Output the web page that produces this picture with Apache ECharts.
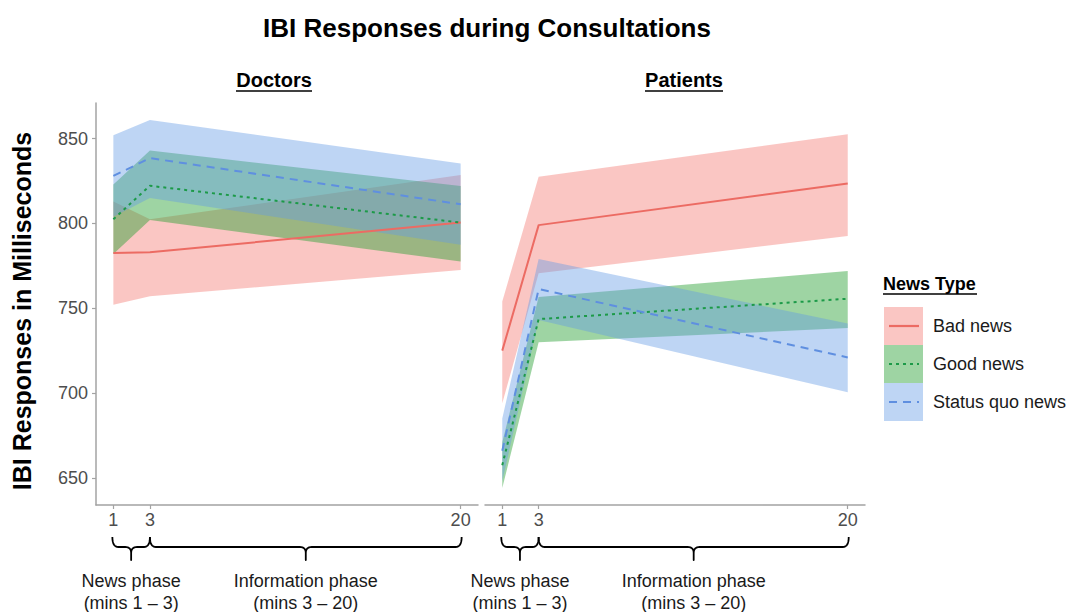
<!DOCTYPE html>
<html>
<head>
<meta charset="utf-8">
<title>IBI Responses during Consultations</title>
<script src="https://cdn.jsdelivr.net/npm/echarts@6/dist/echarts.min.js"></script>
<style>
  html, body { margin: 0; padding: 0; background: #ffffff; }
  #chart { width: 1070px; height: 612px; }
</style>
</head>
<body>
<div id="chart"></div>
<script>
// Minutes into the consultation at which the model estimates are given
const minutes = [1, 3, 20];
const xTicks = [1, 3, 20];
const yTicks = [650, 700, 750, 800, 850];

// Doctors: mean IBI and confidence band per news type
const docBadMean  = [782.5, 783, 800.5];
const docBadLow   = [752, 757, 772.6];
const docBadHigh  = [813, 802.5, 828.5];
const docGoodMean = [802.5, 822.2, 800.5];
const docGoodLow  = [782, 802, 777.5];
const docGoodHigh = [823, 843, 822];
const docSqMean   = [828, 838.5, 811.3];
const docSqLow    = [804, 815, 787.4];
const docSqHigh   = [852, 861, 835.4];

// Patients: mean IBI and confidence band per news type
const patBadMean  = [725, 799, 823.6];
const patBadLow   = [694, 770.7, 792.6];
const patBadHigh  = [754, 827.5, 852.6];
const patGoodMean = [657.5, 743.6, 755.6];
const patGoodLow  = [644, 730, 738.3];
const patGoodHigh = [671, 756.6, 772];
const patSqMean   = [666, 761.3, 721];
const patSqLow    = [648, 743, 700.5];
const patSqHigh   = [685, 779, 741];

const newsTypes = ['Bad news', 'Good news', 'Status quo news'];
const panels = ['Doctors', 'Patients'];

const FONT = "'Liberation Sans', Arial, Helvetica, sans-serif";
const styles = {
  'Bad news':        { line: '#ec6b63', fill: 'rgba(244,120,112,0.42)', dash: 'solid' },
  'Good news':       { line: '#1c9a48', fill: 'rgba(40,160,50,0.45)',   dash: [3, 4] },
  'Status quo news': { line: '#5f8fe0', fill: 'rgba(100,155,228,0.42)', dash: [8, 6] }
};

const panelData = [
  { 'Bad news': [docBadMean, docBadLow, docBadHigh],
    'Good news': [docGoodMean, docGoodLow, docGoodHigh],
    'Status quo news': [docSqMean, docSqLow, docSqHigh] },
  { 'Bad news': [patBadMean, patBadLow, patBadHigh],
    'Good news': [patGoodMean, patGoodLow, patGoodHigh],
    'Status quo news': [patSqMean, patSqLow, patSqHigh] }
];

const chart = echarts.init(document.getElementById('chart'), null, { renderer: 'svg' });

// Ribbon drawn as one polygon through the upper edge and back along the lower edge
function ribbon(gridIdx, name, low, high) {
  const data = minutes.map((m, i) => [m, low[i], high[i]]);
  return {
    type: 'custom', name: name, xAxisIndex: gridIdx, yAxisIndex: gridIdx,
    data: data, encode: { x: 0, y: [1, 2] }, silent: true, z: 2,
    renderItem: function (params, api) {
      if (params.dataIndex !== 0) return null;
      const pts = [];
      for (let i = 0; i < data.length; i++) pts.push(api.coord([data[i][0], data[i][2]]));
      for (let i = data.length - 1; i >= 0; i--) pts.push(api.coord([data[i][0], data[i][1]]));
      return { type: 'polygon', shape: { points: pts }, style: { fill: styles[name].fill } };
    }
  };
}

function meanLine(gridIdx, name, mean) {
  return {
    type: 'line', name: name, xAxisIndex: gridIdx, yAxisIndex: gridIdx,
    data: minutes.map((m, i) => [m, mean[i]]),
    showSymbol: false, silent: true, z: 3,
    lineStyle: { color: styles[name].line, width: 2, type: styles[name].dash }
  };
}

const series = [];
panels.forEach((p, g) => {
  newsTypes.forEach(t => series.push(ribbon(g, t, panelData[g][t][1], panelData[g][t][2])));
});
panels.forEach((p, g) => {
  newsTypes.forEach(t => series.push(meanLine(g, t, panelData[g][t][0])));
});

const axisGrey = '#a3a3a3';
const labelGrey = '#4d4d4d';

chart.setOption({
  animation: false,
  backgroundColor: '#ffffff',
  grid: [
    { left: 96, top: 103, width: 382, height: 402 },
    { left: 485, top: 103, width: 380, height: 402 }
  ],
  xAxis: [0, 1].map(i => ({
    gridIndex: i, type: 'value', min: 0.05, max: 20.95,
    axisLine: { show: true, onZero: false, lineStyle: { color: axisGrey, width: 1.5 } },
    axisTick: { show: true, length: 4, customValues: xTicks, lineStyle: { color: axisGrey, width: 1.2 } },
    axisLabel: { customValues: xTicks, fontSize: 18, color: labelGrey, margin: 6, fontFamily: FONT },
    splitLine: { show: false }
  })),
  yAxis: [
    {
      gridIndex: 0, type: 'value', min: 634, max: 871,
      axisLine: { show: true, lineStyle: { color: axisGrey, width: 1.5 } },
      axisTick: { show: true, length: 4, customValues: yTicks, lineStyle: { color: axisGrey, width: 1.2 } },
      axisLabel: { customValues: yTicks, fontSize: 18, color: labelGrey, margin: 8, fontFamily: FONT },
      splitLine: { show: false }
    },
    { gridIndex: 1, type: 'value', min: 634, max: 871, show: false, splitLine: { show: false } }
  ],
  series: series
});

// Text, legend and phase braces
const g = [];
function text(x, y, str, opt) {
  g.push({
    type: 'text', x: x, y: y, silent: true,
    style: Object.assign({ text: str, fontFamily: FONT, fill: '#000000', fontSize: 18,
      align: 'center', verticalAlign: 'middle' }, opt || {})
  });
}
function hline(x1, x2, y, w, color) {
  g.push({ type: 'line', silent: true, shape: { x1: x1, y1: y, x2: x2, y2: y },
    style: { stroke: color || '#000', lineWidth: w || 1.5 } });
}

text(487, 28, 'IBI Responses during Consultations', { fontSize: 26, fontWeight: 'bold' });
text(274, 80, 'Doctors', { fontWeight: 'bold', fontSize: 20 });
hline(236, 312, 91, 1.7);
text(684, 80, 'Patients', { fontWeight: 'bold', fontSize: 20 });
hline(645, 723, 91, 1.7);

g.push({
  type: 'text', x: 22, y: 311, rotation: Math.PI / 2, silent: true,
  style: { text: 'IBI Responses in Milliseconds', fontFamily: FONT, fontSize: 25, fontWeight: 'bold',
    fill: '#000', align: 'center', verticalAlign: 'middle' }
});

// Legend
text(883, 284, 'News Type', { fontWeight: 'bold', align: 'left' });
hline(883, 977, 294, 1.6);
newsTypes.forEach((t, i) => {
  const top = 307 + i * 38;
  const cy = top + 19;
  g.push({ type: 'rect', silent: true, shape: { x: 884, y: top, width: 39, height: 38 },
    style: { fill: styles[t].fill } });
  g.push({ type: 'line', silent: true, shape: { x1: 889, y1: cy, x2: 919, y2: cy },
    style: { stroke: styles[t].line, lineWidth: 2.2,
      lineDash: styles[t].dash === 'solid' ? null : styles[t].dash } });
  text(933, cy, t, { align: 'left', fill: '#1a1a1a' });
});

// Curly braces under each panel marking the two phases
function quad(p0, c, p1, out) {
  for (let k = 1; k <= 8; k++) {
    const s = k / 8, u = 1 - s;
    out.push([u * u * p0[0] + 2 * u * s * c[0] + s * s * p1[0],
              u * u * p0[1] + 2 * u * s * c[1] + s * s * p1[1]]);
  }
}
function brace(xa, xb) {
  const y0 = 537, y1 = 547, y2 = 560, r = 6;
  const xc = (xa + xb) / 2;
  const pts = [[xa, y0]];
  quad([xa, y0], [xa, y1], [xa + r, y1], pts);
  pts.push([xc - r, y1]);
  quad([xc - r, y1], [xc, y1], [xc, y1 + r], pts);
  pts.push([xc, y2]);
  pts.push([xc, y1 + r]);
  quad([xc, y1 + r], [xc, y1], [xc + r, y1], pts);
  pts.push([xb - r, y1]);
  quad([xb - r, y1], [xb, y1], [xb, y0], pts);
  g.push({ type: 'polyline', silent: true, shape: { points: pts },
    style: { fill: null, stroke: '#000', lineWidth: 1.8, lineJoin: 'round' } });
  return xc;
}
[0, 1].forEach(i => {
  const p1 = chart.convertToPixel({ xAxisIndex: i }, xTicks[0]);
  const p3 = chart.convertToPixel({ xAxisIndex: i }, xTicks[1]);
  const p20 = chart.convertToPixel({ xAxisIndex: i }, xTicks[2]);
  const c1 = brace(p1 - 1, p3);
  const c2 = brace(p3, p20 + 1);
  text(c1, 581, 'News phase', { fill: '#1a1a1a' });
  text(c1, 603, '(mins 1 \u2013 3)', { fill: '#1a1a1a' });
  text(c2, 581, 'Information phase', { fill: '#1a1a1a' });
  text(c2, 603, '(mins 3 \u2013 20)', { fill: '#1a1a1a' });
});

chart.setOption({ graphic: g });
</script>
</body>
</html>
